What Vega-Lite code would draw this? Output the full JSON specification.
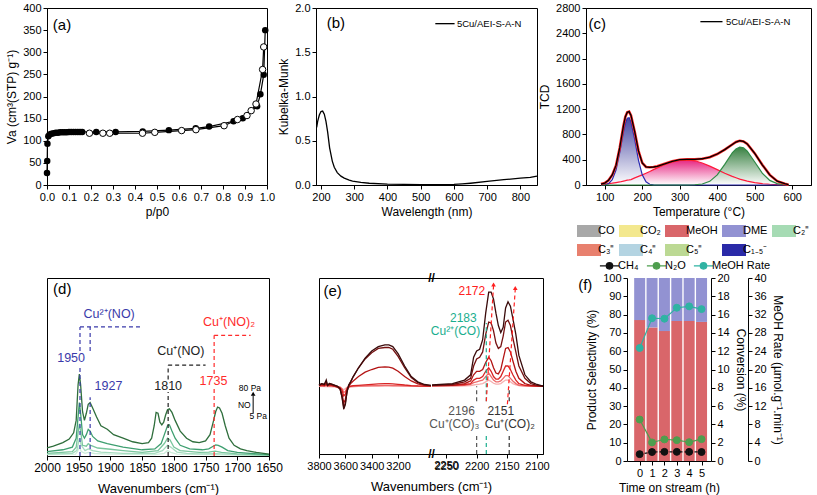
{
"$schema": "https://vega.github.io/schema/vega-lite/v6.json",
"background": "white",
"padding": {"left": 5, "top": 1, "right": 0, "bottom": 0},
"config": {
  "font": "Liberation Sans",
  "view": {"stroke": "#000", "strokeWidth": 1},
  "axis": {"grid": false, "domainColor": "#000", "tickColor": "#000", "tickSize": 4, "labelColor": "#000", "titleColor": "#000", "labelFontSize": 11, "titleFontSize": 12, "titleFontWeight": "normal", "labelFlush": false, "labelOverlap": false, "labelPadding": 2, "tickCount": 40, "labelFont": "Liberation Sans", "titleFont": "Liberation Sans"},
  "legend": {"labelFont": "Liberation Sans"},
  "text": {"font": "Liberation Sans"}
},
"datasets": {
  "a_ads": [{"p":0,"v":27},{"p":0.001,"v":54},{"p":0.002,"v":93},{"p":0.006,"v":110},{"p":0.012,"v":114},{"p":0.02,"v":116},{"p":0.03,"v":117},{"p":0.04,"v":118},{"p":0.05,"v":118},{"p":0.06,"v":119},{"p":0.07,"v":119},{"p":0.08,"v":119},{"p":0.09,"v":119},{"p":0.1,"v":120},{"p":0.11,"v":120},{"p":0.12,"v":120},{"p":0.13,"v":120},{"p":0.14,"v":120},{"p":0.15,"v":120},{"p":0.16,"v":120},{"p":0.224,"v":120},{"p":0.312,"v":120},{"p":0.435,"v":121},{"p":0.554,"v":124},{"p":0.676,"v":128},{"p":0.737,"v":132},{"p":0.848,"v":144},{"p":0.89,"v":151},{"p":0.955,"v":178},{"p":0.97,"v":205},{"p":0.985,"v":249},{"p":0.992,"v":350}],
  "a_des": [{"p":0.193,"v":117},{"p":0.254,"v":117},{"p":0.285,"v":117},{"p":0.434,"v":117},{"p":0.49,"v":119},{"p":0.612,"v":123},{"p":0.677,"v":125},{"p":0.805,"v":134},{"p":0.866,"v":148},{"p":0.909,"v":157},{"p":0.928,"v":168},{"p":0.95,"v":183},{"p":0.98,"v":261},{"p":0.985,"v":312}],
  "b_km": [{"wl":187,"km":0.65},{"wl":190,"km":0.72},{"wl":195,"km":0.79},{"wl":200,"km":0.83},{"wl":205,"km":0.835},{"wl":210,"km":0.8},{"wl":215,"km":0.72},{"wl":220,"km":0.6},{"wl":226,"km":0.42},{"wl":234,"km":0.27},{"wl":240,"km":0.2},{"wl":249,"km":0.14},{"wl":260,"km":0.1},{"wl":270,"km":0.078},{"wl":285,"km":0.055},{"wl":295,"km":0.045},{"wl":320,"km":0.03},{"wl":345,"km":0.02},{"wl":400,"km":0.01},{"wl":450,"km":0.007},{"wl":500,"km":0.005},{"wl":550,"km":0.005},{"wl":600,"km":0.006},{"wl":625,"km":0.012},{"wl":650,"km":0.02},{"wl":700,"km":0.04},{"wl":750,"km":0.06},{"wl":800,"km":0.078},{"wl":830,"km":0.085},{"wl":850,"km":0.1}],
  "c_tpd": [{"t":90,"blue":1,"pink":12,"green":0,"total":15},{"t":100,"blue":4,"pink":16,"green":0,"total":30},{"t":110,"blue":22,"pink":22,"green":0,"total":75},{"t":120,"blue":83,"pink":29,"green":0,"total":160},{"t":130,"blue":237,"pink":38,"green":0,"total":310},{"t":140,"blue":514,"pink":48,"green":0,"total":590},{"t":150,"blue":846,"pink":61,"green":0,"total":940},{"t":155,"blue":979,"pink":68,"green":0,"total":1080},{"t":160,"blue":1057,"pink":76,"green":0,"total":1150},{"t":165,"blue":1064,"pink":80,"green":0,"total":1160},{"t":170,"blue":999,"pink":85,"green":0,"total":1100},{"t":180,"blue":717,"pink":113,"green":0,"total":840},{"t":190,"blue":390,"pink":136,"green":0,"total":540},{"t":200,"blue":161,"pink":160,"green":0,"total":350},{"t":210,"blue":50,"pink":187,"green":0,"total":285},{"t":220,"blue":12,"pink":214,"green":0,"total":280},{"t":230,"blue":2,"pink":243,"green":0,"total":285},{"t":240,"blue":0,"pink":271,"green":0,"total":295},{"t":260,"blue":0,"pink":324,"green":0,"total":335},{"t":280,"blue":0,"pink":367,"green":0,"total":375},{"t":300,"blue":0,"pink":394,"green":0,"total":400},{"t":320,"blue":0,"pink":399,"green":0,"total":405},{"t":340,"blue":0,"pink":383,"green":4,"total":405},{"t":360,"blue":0,"pink":348,"green":16,"total":415},{"t":380,"blue":0,"pink":299,"green":58,"total":440},{"t":400,"blue":0,"pink":243,"green":159,"total":490},{"t":420,"blue":0,"pink":187,"green":326,"total":560},{"t":440,"blue":0,"pink":136,"green":507,"total":640},{"t":450,"blue":0,"pink":114,"green":571,"total":680},{"t":460,"blue":0,"pink":93,"green":599,"total":700},{"t":470,"blue":0,"pink":77,"green":587,"total":690},{"t":480,"blue":0,"pink":61,"green":536,"total":650},{"t":500,"blue":0,"pink":37,"green":364,"total":500},{"t":520,"blue":0,"pink":22,"green":187,"total":320},{"t":540,"blue":0,"pink":12,"green":73,"total":160},{"t":560,"blue":0,"pink":6,"green":22,"total":60},{"t":580,"blue":0,"pink":3,"green":5,"total":20},{"t":590,"blue":0,"pink":2,"green":2,"total":5}],
  "d_ir": [
    {"w":2000,"c5":0.008},{"w":1955,"c5":0.01},{"w":1952,"c5":0.025},{"w":1949,"c5":0.05},{"w":1946,"c5":0.025},{"w":1940,"c5":0.015},{"w":1935,"c5":0.02},{"w":1925,"c5":0.014},{"w":1900,"c5":0.01},{"w":1830,"c5":0.008},{"w":1815,"c5":0.015},{"w":1810,"c5":0.03},{"w":1805,"c5":0.02},{"w":1795,"c5":0.01},{"w":1650,"c5":0.003},
    {"w":2000,"c4":0.01},{"w":1960,"c4":0.015},{"w":1953,"c4":0.03},{"w":1949,"c4":0.1},{"w":1946,"c4":0.06},{"w":1940,"c4":0.03},{"w":1935,"c4":0.04},{"w":1928,"c4":0.03},{"w":1915,"c4":0.022},{"w":1880,"c4":0.015},{"w":1830,"c4":0.015},{"w":1818,"c4":0.03},{"w":1810,"c4":0.06},{"w":1805,"c4":0.05},{"w":1795,"c4":0.022},{"w":1780,"c4":0.015},{"w":1760,"c4":0.012},{"w":1735,"c4":0.013},{"w":1700,"c4":0.008},{"w":1650,"c4":0.004},
    {"w":2000,"c3":0.015},{"w":1960,"c3":0.025},{"w":1954,"c3":0.05},{"w":1951,"c3":0.13},{"w":1949,"c3":0.18},{"w":1947,"c3":0.14},{"w":1944,"c3":0.06},{"w":1938,"c3":0.055},{"w":1935,"c3":0.07},{"w":1931,"c3":0.06},{"w":1920,"c3":0.045},{"w":1900,"c3":0.038},{"w":1880,"c3":0.03},{"w":1850,"c3":0.02},{"w":1825,"c3":0.03},{"w":1815,"c3":0.07},{"w":1810,"c3":0.1},{"w":1806,"c3":0.09},{"w":1800,"c3":0.05},{"w":1790,"c3":0.03},{"w":1760,"c3":0.02},{"w":1745,"c3":0.022},{"w":1735,"c3":0.027},{"w":1725,"c3":0.02},{"w":1700,"c3":0.012},{"w":1650,"c3":0.005},
    {"w":2000,"c2":0.025},{"w":1975,"c2":0.035},{"w":1960,"c2":0.05},{"w":1954,"c2":0.1},{"w":1951,"c2":0.22},{"w":1949,"c2":0.3},{"w":1947,"c2":0.24},{"w":1944,"c2":0.12},{"w":1941,"c2":0.1},{"w":1938,"c2":0.12},{"w":1935,"c2":0.15},{"w":1932,"c2":0.14},{"w":1928,"c2":0.11},{"w":1920,"c2":0.085},{"w":1905,"c2":0.07},{"w":1880,"c2":0.05},{"w":1850,"c2":0.035},{"w":1830,"c2":0.04},{"w":1820,"c2":0.07},{"w":1815,"c2":0.12},{"w":1810,"c2":0.17},{"w":1807,"c2":0.175},{"w":1803,"c2":0.14},{"w":1798,"c2":0.1},{"w":1790,"c2":0.06},{"w":1775,"c2":0.04},{"w":1755,"c2":0.035},{"w":1745,"c2":0.04},{"w":1738,"c2":0.055},{"w":1734,"c2":0.062},{"w":1730,"c2":0.06},{"w":1724,"c2":0.05},{"w":1715,"c2":0.03},{"w":1700,"c2":0.02},{"w":1680,"c2":0.015},{"w":1650,"c2":0.008},
    {"w":2000,"c1":0.045},{"w":1990,"c1":0.055},{"w":1975,"c1":0.075},{"w":1965,"c1":0.095},{"w":1958,"c1":0.13},{"w":1954,"c1":0.2},{"w":1951,"c1":0.4},{"w":1949,"c1":0.46},{"w":1947,"c1":0.4},{"w":1944,"c1":0.25},{"w":1941,"c1":0.2},{"w":1938,"c1":0.24},{"w":1935,"c1":0.29},{"w":1932,"c1":0.3},{"w":1928,"c1":0.27},{"w":1922,"c1":0.22},{"w":1915,"c1":0.17},{"w":1905,"c1":0.15},{"w":1895,"c1":0.12},{"w":1880,"c1":0.1},{"w":1865,"c1":0.08},{"w":1850,"c1":0.07},{"w":1840,"c1":0.075},{"w":1835,"c1":0.1},{"w":1831,"c1":0.17},{"w":1828,"c1":0.245},{"w":1825,"c1":0.24},{"w":1822,"c1":0.19},{"w":1819,"c1":0.175},{"w":1816,"c1":0.19},{"w":1813,"c1":0.23},{"w":1810,"c1":0.26},{"w":1807,"c1":0.265},{"w":1803,"c1":0.245},{"w":1798,"c1":0.2},{"w":1790,"c1":0.14},{"w":1780,"c1":0.1},{"w":1770,"c1":0.08},{"w":1760,"c1":0.075},{"w":1750,"c1":0.085},{"w":1743,"c1":0.12},{"w":1738,"c1":0.19},{"w":1734,"c1":0.25},{"w":1731,"c1":0.275},{"w":1728,"c1":0.27},{"w":1724,"c1":0.24},{"w":1719,"c1":0.17},{"w":1713,"c1":0.1},{"w":1705,"c1":0.06},{"w":1695,"c1":0.04},{"w":1685,"c1":0.03},{"w":1670,"c1":0.02},{"w":1650,"c1":0.01}
  ],
  "d_rules": [
    {"w":1948,"w2":1948,"v":0,"v2":0.5,"site":"Cu²⁺(NO)"},
    {"w":1948,"w2":1948,"v":0.59,"v2":0.725,"site":"Cu²⁺(NO)"},
    {"w":1948,"w2":1852,"v":0.725,"v2":0.725,"site":"Cu²⁺(NO)"},
    {"w":1932,"w2":1932,"v":0,"v2":0.33,"site":"Cu²⁺(NO)"},
    {"w":1932,"w2":1932,"v":0.59,"v2":0.725,"site":"Cu²⁺(NO)"},
    {"w":1809,"w2":1809,"v":0,"v2":0.36,"site":"Cu⁺(NO)"},
    {"w":1809,"w2":1809,"v":0.43,"v2":0.51,"site":"Cu⁺(NO)"},
    {"w":1809,"w2":1750,"v":0.51,"v2":0.51,"site":"Cu⁺(NO)"},
    {"w":1736.5,"w2":1736.5,"v":0,"v2":0.38,"site":"Cu⁺(NO)₂"},
    {"w":1736.5,"w2":1736.5,"v":0.46,"v2":0.678,"site":"Cu⁺(NO)₂"},
    {"w":1736.5,"w2":1679,"v":0.678,"v2":0.678,"site":"Cu⁺(NO)₂"}
  ],
  "d_txt": [
    {"w":1902,"v":0.8,"label":"Cu²⁺(NO)","site":"Cu²⁺(NO)"},
    {"w":1962,"v":0.553,"label":"1950","site":"Cu²⁺(NO)"},
    {"w":1903,"v":0.393,"label":"1927","site":"Cu²⁺(NO)"},
    {"w":1789,"v":0.59,"label":"Cu⁺(NO)","site":"Cu⁺(NO)"},
    {"w":1809,"v":0.393,"label":"1810","site":"Cu⁺(NO)"},
    {"w":1713,"v":0.753,"label":"Cu⁺(NO)₂","site":"Cu⁺(NO)₂"},
    {"w":1737.5,"v":0.42,"label":"1735","site":"Cu⁺(NO)₂"}
  ],
  "d_small": [{"w":1680,"v":0.384,"label":"80 Pa"},{"w":1689,"v":0.285,"label":"NO"},{"w":1667,"v":0.225,"label":"5 Pa"}],
  "e_spec": [
    {"w":3800,"seg":"L","c1":0.39,"c2":0.39,"c3":0.39,"c4":0.388,"c5":0.386,"c6":0.385},
    {"w":3780,"seg":"L","c1":0.4,"c2":0.4,"c3":0.395,"c4":0.39,"c5":0.388},
    {"w":3760,"seg":"L","c1":0.395,"c2":0.395,"c3":0.39,"c4":0.388,"c5":0.386},
    {"w":3745,"seg":"L","c1":0.42,"c2":0.41,"c3":0.4,"c4":0.395,"c5":0.39},
    {"w":3735,"seg":"L","c1":0.39,"c2":0.39,"c3":0.39,"c4":0.387,"c5":0.386},
    {"w":3720,"seg":"L","c1":0.4,"c2":0.4,"c3":0.395,"c4":0.39,"c5":0.388},
    {"w":3700,"seg":"L","c1":0.395,"c2":0.395,"c3":0.39,"c4":0.388,"c5":0.386},
    {"w":3680,"seg":"L","c1":0.39,"c2":0.39,"c3":0.385,"c4":0.385,"c5":0.384},
    {"w":3660,"seg":"L","c1":0.385,"c2":0.385,"c3":0.38,"c4":0.382,"c5":0.382},
    {"w":3640,"seg":"L","c1":0.37,"c2":0.37,"c3":0.37,"c4":0.378,"c5":0.38,"c6":0.38},
    {"w":3625,"seg":"L","c1":0.32,"c2":0.325,"c3":0.34,"c4":0.36,"c5":0.37},
    {"w":3612,"seg":"L","c1":0.255,"c2":0.265,"c3":0.29,"c4":0.33,"c5":0.35,"c6":0.365},
    {"w":3600,"seg":"L","c1":0.28,"c2":0.29,"c3":0.31,"c4":0.34,"c5":0.355},
    {"w":3588,"seg":"L","c1":0.35,"c2":0.35,"c3":0.36,"c4":0.37,"c5":0.375,"c6":0.378},
    {"w":3575,"seg":"L","c1":0.39,"c2":0.39,"c3":0.385,"c4":0.38,"c5":0.382},
    {"w":3560,"seg":"L","c1":0.41,"c2":0.41,"c3":0.4,"c4":0.385,"c5":0.384},
    {"w":3540,"seg":"L","c1":0.44,"c2":0.44,"c3":0.415,"c4":0.388,"c5":0.385},
    {"w":3500,"seg":"L","c1":0.49,"c2":0.49,"c3":0.44,"c4":0.39,"c5":0.386,"c6":0.384},
    {"w":3450,"seg":"L","c1":0.545,"c2":0.54,"c3":0.465,"c4":0.393,"c5":0.387},
    {"w":3400,"seg":"L","c1":0.585,"c2":0.575,"c3":0.48,"c4":0.396,"c5":0.388},
    {"w":3350,"seg":"L","c1":0.61,"c2":0.6,"c3":0.492,"c4":0.398,"c5":0.389},
    {"w":3300,"seg":"L","c1":0.62,"c2":0.605,"c3":0.495,"c4":0.4,"c5":0.39,"c6":0.386},
    {"w":3270,"seg":"L","c1":0.62,"c2":0.605,"c3":0.494,"c4":0.4,"c5":0.39},
    {"w":3240,"seg":"L","c1":0.61,"c2":0.595,"c3":0.488,"c4":0.399,"c5":0.389},
    {"w":3200,"seg":"L","c1":0.57,"c2":0.555,"c3":0.47,"c4":0.396,"c5":0.388},
    {"w":3150,"seg":"L","c1":0.5,"c2":0.49,"c3":0.44,"c4":0.392,"c5":0.387},
    {"w":3100,"seg":"L","c1":0.44,"c2":0.435,"c3":0.415,"c4":0.389,"c5":0.386},
    {"w":3050,"seg":"L","c1":0.41,"c2":0.405,"c3":0.398,"c4":0.387,"c5":0.385},
    {"w":3000,"seg":"L","c1":0.395,"c2":0.393,"c3":0.39,"c4":0.386,"c5":0.385},
    {"w":2950,"seg":"L","c1":0.39,"c2":0.388,"c3":0.387,"c4":0.386,"c5":0.385,"c6":0.384},
    {"w":2274,"seg":"R","c1":0.392,"c2":0.39,"c3":0.388,"c4":0.388,"c5":0.387,"c6":0.386},
    {"w":2240,"seg":"R","c1":0.4,"c2":0.395,"c3":0.39,"c4":0.39,"c5":0.388,"c6":0.386},
    {"w":2220,"seg":"R","c1":0.42,"c2":0.41,"c3":0.4,"c4":0.395,"c5":0.39,"c6":0.387},
    {"w":2210,"seg":"R","c1":0.45,"c2":0.43,"c3":0.415,"c4":0.4,"c5":0.395,"c6":0.388},
    {"w":2205,"seg":"R","c1":0.55,"c2":0.5,"c3":0.45,"c4":0.42,"c5":0.405,"c6":0.392},
    {"w":2200,"seg":"R","c1":0.585,"c2":0.54,"c3":0.47,"c4":0.43,"c5":0.41,"c6":0.395},
    {"w":2195,"seg":"R","c1":0.595,"c2":0.55,"c3":0.47,"c4":0.43,"c5":0.415,"c6":0.397},
    {"w":2190,"seg":"R","c1":0.65,"c2":0.58,"c3":0.48,"c4":0.44,"c5":0.42,"c6":0.4},
    {"w":2185,"seg":"R","c1":0.8,"c2":0.68,"c3":0.52,"c4":0.47,"c5":0.44,"c6":0.41},
    {"w":2180,"seg":"R","c1":0.92,"c2":0.75,"c3":0.55,"c4":0.49,"c5":0.46,"c6":0.42},
    {"w":2176,"seg":"R","c1":0.92,"c2":0.745,"c3":0.53,"c4":0.47,"c5":0.44,"c6":0.412},
    {"w":2172,"seg":"R","c1":0.88,"c2":0.7,"c3":0.49,"c4":0.44,"c5":0.42,"c6":0.402},
    {"w":2168,"seg":"R","c1":0.8,"c2":0.63,"c3":0.46,"c4":0.425,"c5":0.41,"c6":0.397},
    {"w":2164,"seg":"R","c1":0.73,"c2":0.6,"c3":0.455,"c4":0.425,"c5":0.41,"c6":0.397},
    {"w":2160,"seg":"R","c1":0.69,"c2":0.61,"c3":0.48,"c4":0.44,"c5":0.415,"c6":0.4},
    {"w":2156,"seg":"R","c1":0.72,"c2":0.67,"c3":0.54,"c4":0.47,"c5":0.43,"c6":0.41},
    {"w":2152,"seg":"R","c1":0.83,"c2":0.75,"c3":0.6,"c4":0.5,"c5":0.445,"c6":0.42},
    {"w":2148,"seg":"R","c1":0.865,"c2":0.76,"c3":0.605,"c4":0.5,"c5":0.445,"c6":0.42},
    {"w":2144,"seg":"R","c1":0.84,"c2":0.73,"c3":0.58,"c4":0.48,"c5":0.43,"c6":0.41},
    {"w":2140,"seg":"R","c1":0.77,"c2":0.66,"c3":0.53,"c4":0.45,"c5":0.415,"c6":0.4},
    {"w":2135,"seg":"R","c1":0.68,"c2":0.58,"c3":0.47,"c4":0.42,"c5":0.4,"c6":0.393},
    {"w":2130,"seg":"R","c1":0.56,"c2":0.5,"c3":0.43,"c4":0.4,"c5":0.39,"c6":0.389},
    {"w":2120,"seg":"R","c1":0.45,"c2":0.43,"c3":0.4,"c4":0.39,"c5":0.387,"c6":0.386},
    {"w":2110,"seg":"R","c1":0.41,"c2":0.4,"c3":0.39,"c4":0.387,"c5":0.386,"c6":0.385},
    {"w":2100,"seg":"R","c1":0.395,"c2":0.39,"c3":0.387,"c4":0.386,"c5":0.385,"c6":0.385},
    {"w":2090,"seg":"R","c1":0.385,"c2":0.385,"c3":0.385,"c4":0.385,"c5":0.385,"c6":0.385}
  ],
  "e_rules": [
    {"w":2200,"w2":2200,"v":0,"v2":0.113,"site":"Cu⁺(CO)₃"},
    {"w":2200,"w2":2200,"v":0.3,"v2":0.385,"site":"Cu⁺(CO)₃"},
    {"w":2184,"w2":2184,"v":0,"v2":0.113,"site":"Cu²⁺(CO)"},
    {"w":2184,"w2":2184,"v":0.3,"v2":0.745,"site":"Cu²⁺(CO)"},
    {"w":2146,"w2":2146,"v":0,"v2":0.113,"site":"Cu⁺(CO)₂"},
    {"w":2146,"w2":2146,"v":0.3,"v2":0.38,"site":"Cu⁺(CO)₂"},
    {"w":2184,"w2":2172,"v":0.3,"v2":0.955,"site":"growth"},
    {"w":2149,"w2":2136,"v":0.283,"v2":0.935,"site":"growth"}
  ],
  "e_heads": [{"w":2172,"v":0.963,"site":"growth"},{"w":2136,"v":0.943,"site":"growth"}],
  "e_txt": [
    {"w":2208,"v":0.925,"label":"2172","site":"growth"},
    {"w":2222,"v":0.773,"label":"2183","site":"Cu²⁺(CO)"},
    {"w":2235,"v":0.7,"label":"Cu²⁺(CO)","site":"Cu²⁺(CO)"},
    {"w":2225,"v":0.245,"label":"2196","site":"Cu⁺(CO)₃"},
    {"w":2237,"v":0.17,"label":"Cu⁺(CO)₃","site":"Cu⁺(CO)₃"},
    {"w":2160,"v":0.245,"label":"2151","site":"Cu⁺(CO)₂"},
    {"w":2145,"v":0.17,"label":"Cu⁺(CO)₂","site":"Cu⁺(CO)₂"}
  ],
  "e_brk": [{"w":2600,"v":1},{"w":2600,"v":0}],
  "e_tick": [{"w":2250,"v":-0.034,"label":"2250"}],
  "f_bars": [{"t":0,"comp":"MeOH","sel":77},{"t":0,"comp":"DME","sel":23},{"t":1,"comp":"MeOH","sel":73},{"t":1,"comp":"DME","sel":27},{"t":2,"comp":"MeOH","sel":71},{"t":2,"comp":"DME","sel":29},{"t":3,"comp":"MeOH","sel":76.5},{"t":3,"comp":"DME","sel":23.5},{"t":4,"comp":"MeOH","sel":76.5},{"t":4,"comp":"DME","sel":23.5},{"t":5,"comp":"MeOH","sel":76},{"t":5,"comp":"DME","sel":24}],
  "f_conv": [{"t":0,"series":"CH₄","conv":0.75},{"t":1,"series":"CH₄","conv":0.98},{"t":2,"series":"CH₄","conv":1.0},{"t":3,"series":"CH₄","conv":1.0},{"t":4,"series":"CH₄","conv":1.0},{"t":5,"series":"CH₄","conv":0.98},{"t":0,"series":"N₂O","conv":4.53},{"t":1,"series":"N₂O","conv":2.03},{"t":2,"series":"N₂O","conv":2.36},{"t":3,"series":"N₂O","conv":2.28},{"t":4,"series":"N₂O","conv":2.06},{"t":5,"series":"N₂O","conv":2.39}],
  "f_rate": [{"t":0,"series":"MeOH Rate","rate":24.7},{"t":1,"series":"MeOH Rate","rate":31.2},{"t":2,"series":"MeOH Rate","rate":31.1},{"t":3,"series":"MeOH Rate","rate":33.5},{"t":4,"series":"MeOH Rate","rate":33.8},{"t":5,"series":"MeOH Rate","rate":33.2}]
},
"bounds": "flush",
"spacing": 270,
"resolve": {"scale": {"color": "independent", "stroke": "independent", "fill": "independent", "strokeDash": "independent"}, "legend": {"color": "independent", "stroke": "independent", "fill": "independent", "strokeDash": "independent"}},
"vconcat": [
 {
  "bounds": "flush",
  "spacing": 49,
  "resolve": {"scale": {"color": "independent", "stroke": "independent", "fill": "independent", "strokeDash": "independent"}, "legend": {"color": "independent", "stroke": "independent", "fill": "independent", "strokeDash": "independent"}},
  "hconcat": [
   {
    "width": 220, "height": 177,
    "layer": [
     {"data": {"name": "a_ads"}, "mark": {"type": "line", "color": "#000", "strokeWidth": 1.2},
      "encoding": {
       "x": {"field": "p", "type": "quantitative", "scale": {"domain": [0, 1], "nice": false}, "axis": {"values": [0,0.1,0.2,0.3,0.4,0.5,0.6,0.7,0.8,0.9,1], "tickCount": 40, "format": ".1f", "labelOverlap": false, "title": "p/p0"}},
       "y": {"field": "v", "type": "quantitative", "scale": {"domain": [0, 400], "nice": false}, "axis": {"values": [0,50,100,150,200,250,300,350,400], "tickCount": 40, "format": "d", "labelOverlap": false, "title": "Va (cm³(STP) g⁻¹)"}}}},
     {"data": {"name": "a_des"}, "mark": {"type": "line", "color": "#000", "strokeWidth": 1.2},
      "encoding": {"x": {"field": "p", "type": "quantitative"}, "y": {"field": "v", "type": "quantitative"}}},
     {"data": {"name": "a_ads"}, "mark": {"type": "point", "filled": true, "color": "#000", "size": 42, "opacity": 1},
      "encoding": {"x": {"field": "p", "type": "quantitative"}, "y": {"field": "v", "type": "quantitative"}}},
     {"data": {"name": "a_des"}, "mark": {"type": "point", "filled": true, "fill": "#fff", "stroke": "#000", "strokeWidth": 1, "size": 42, "opacity": 1},
      "encoding": {"x": {"field": "p", "type": "quantitative"}, "y": {"field": "v", "type": "quantitative"}}},
     {"data": {"values": [{"x": 0.068, "y": 362, "t": "(a)"}]}, "mark": {"type": "text", "fontSize": 15},
      "encoding": {"x": {"field": "x", "type": "quantitative"}, "y": {"field": "y", "type": "quantitative"}, "text": {"field": "t"}}}
    ]
   },
   {
    "width": 221, "height": 177,
    "layer": [
     {"data": {"name": "b_km"}, "mark": {"type": "line", "color": "#000", "strokeWidth": 1.3},
      "encoding": {
       "x": {"field": "wl", "type": "quantitative", "scale": {"domain": [185, 850], "nice": false, "zero": false}, "axis": {"values": [200,300,400,500,600,700,800], "tickCount": 40, "format": "d", "labelOverlap": false, "title": "Wavelength (nm)"}},
       "y": {"field": "km", "type": "quantitative", "scale": {"domain": [0, 2], "nice": false}, "axis": {"values": [0,0.5,1,1.5,2], "tickCount": 40, "format": ".1f", "labelOverlap": false, "title": "Kubelka-Munk"}}}},
     {"data": {"values": [{"x": 544, "x2": 602, "y": 1.823}]}, "mark": {"type": "rule", "color": "#000", "strokeWidth": 1.3},
      "encoding": {"x": {"field": "x", "type": "quantitative"}, "x2": {"field": "x2"}, "y": {"field": "y", "type": "quantitative"}}},
     {"data": {"values": [{"x": 609, "y": 1.823, "t": "5Cu/AEI-S-A-N"}]}, "mark": {"type": "text", "fontSize": 9.5, "align": "left", "baseline": "middle"},
      "encoding": {"x": {"field": "x", "type": "quantitative"}, "y": {"field": "y", "type": "quantitative"}, "text": {"field": "t"}}},
     {"data": {"values": [{"x": 245, "y": 1.83, "t": "(b)"}]}, "mark": {"type": "text", "fontSize": 15},
      "encoding": {"x": {"field": "x", "type": "quantitative"}, "y": {"field": "y", "type": "quantitative"}, "text": {"field": "t"}}}
    ]
   },
   {
    "width": 225, "height": 177,
    "layer": [
     {"data": {"name": "c_tpd"}, "mark": {"type": "area", "opacity": 0.95, "color": {"gradient": "linear", "x1": 0, "y1": 0, "x2": 0, "y2": 1, "stops": [{"offset": 0, "color": "#e5197a"}, {"offset": 1, "color": "#ffffff"}]}},
      "encoding": {
       "x": {"field": "t", "type": "quantitative", "scale": {"domain": [50, 650], "nice": false, "zero": false}, "axis": {"values": [100,200,300,400,500,600], "tickCount": 40, "format": "d", "labelOverlap": false, "title": "Temperature (°C)"}},
       "y": {"field": "pink", "type": "quantitative", "scale": {"domain": [0, 2800], "nice": false}, "axis": {"values": [0,400,800,1200,1600,2000,2400,2800], "tickCount": 40, "format": "d", "labelOverlap": false, "title": "TCD"}}}},
     {"data": {"name": "c_tpd"}, "mark": {"type": "area", "opacity": 0.95, "color": {"gradient": "linear", "x1": 0, "y1": 0, "x2": 0, "y2": 1, "stops": [{"offset": 0, "color": "#3c3c9c"}, {"offset": 1, "color": "#ffffff"}]}},
      "encoding": {"x": {"field": "t", "type": "quantitative"}, "y": {"field": "blue", "type": "quantitative"}}},
     {"data": {"name": "c_tpd"}, "mark": {"type": "area", "opacity": 0.95, "color": {"gradient": "linear", "x1": 0, "y1": 0, "x2": 0, "y2": 1, "stops": [{"offset": 0, "color": "#2e7a38"}, {"offset": 1, "color": "#ffffff"}]}},
      "encoding": {"x": {"field": "t", "type": "quantitative"}, "y": {"field": "green", "type": "quantitative"}}},
     {"data": {"name": "c_tpd"}, "mark": {"type": "line", "color": "#ff1a3c", "strokeWidth": 1.2},
      "encoding": {"x": {"field": "t", "type": "quantitative"}, "y": {"field": "pink", "type": "quantitative"}}},
     {"data": {"name": "c_tpd"}, "mark": {"type": "line", "color": "#2a2ab0", "strokeWidth": 1.2},
      "encoding": {"x": {"field": "t", "type": "quantitative"}, "y": {"field": "blue", "type": "quantitative"}}},
     {"data": {"name": "c_tpd"}, "mark": {"type": "line", "color": "#2f8a45", "strokeWidth": 1.2},
      "encoding": {"x": {"field": "t", "type": "quantitative"}, "y": {"field": "green", "type": "quantitative"}}},
     {"data": {"name": "c_tpd"}, "mark": {"type": "line", "color": "#ff2020", "strokeWidth": 2.6},
      "encoding": {"x": {"field": "t", "type": "quantitative"}, "y": {"field": "total", "type": "quantitative"}}},
     {"data": {"name": "c_tpd"}, "mark": {"type": "line", "color": "#000", "strokeWidth": 1.3},
      "encoding": {"x": {"field": "t", "type": "quantitative"}, "y": {"field": "total", "type": "quantitative"}}},
     {"data": {"values": [{"x": 355, "x2": 414, "y": 2584}]}, "mark": {"type": "rule", "color": "#000", "strokeWidth": 1.3},
      "encoding": {"x": {"field": "x", "type": "quantitative"}, "x2": {"field": "x2"}, "y": {"field": "y", "type": "quantitative"}}},
     {"data": {"values": [{"x": 423, "y": 2584, "t": "5Cu/AEI-S-A-N"}]}, "mark": {"type": "text", "fontSize": 9.5, "align": "left", "baseline": "middle"},
      "encoding": {"x": {"field": "x", "type": "quantitative"}, "y": {"field": "y", "type": "quantitative"}, "text": {"field": "t"}}},
     {"data": {"values": [{"x": 80, "y": 2550, "t": "(c)"}]}, "mark": {"type": "text", "fontSize": 15},
      "encoding": {"x": {"field": "x", "type": "quantitative"}, "y": {"field": "y", "type": "quantitative"}, "text": {"field": "t"}}}
    ]
   }
  ]
 },
 {
  "bounds": "flush",
  "spacing": 580,
  "resolve": {"scale": {"color": "independent", "stroke": "independent", "fill": "independent", "strokeDash": "independent"}, "legend": {"color": "independent", "stroke": "independent", "fill": "independent", "strokeDash": "independent"}},
  "hconcat": [
   {
    "bounds": "flush",
    "spacing": 50,
    "resolve": {"scale": {"color": "independent", "stroke": "independent", "fill": "independent", "strokeDash": "independent"}, "legend": {"color": "independent", "stroke": "independent", "fill": "independent", "strokeDash": "independent"}},
    "hconcat": [
     {
      "width": 222, "height": 178,
      "layer": [
       {"data": {"name": "d_ir"}, "transform": [{"fold": ["c5","c4","c3","c2","c1"], "as": ["curve","abs"]}],
        "mark": {"type": "line", "strokeWidth": 1.3, "invalid": "filter"},
        "encoding": {
         "x": {"field": "w", "type": "quantitative", "scale": {"domain": [2000, 1650], "nice": false, "zero": false}, "axis": {"values": [2000,1950,1900,1850,1800,1750,1700,1650], "tickCount": 40, "format": "d", "labelOverlap": false, "title": "Wavenumbers (cm⁻¹)", "labelFontSize": 12, "titleFontSize": 13, "titlePadding": 9}},
         "y": {"field": "abs", "type": "quantitative", "scale": {"domain": [0, 1], "nice": false}, "axis": null},
         "stroke": {"field": "curve", "type": "nominal", "scale": {"domain": ["c5","c4","c3","c2","c1"], "range": ["#cdeedb","#a6dcc0","#79c69d","#3e9f70","#2f6e3c"]}, "legend": null}}},
       {"data": {"name": "d_rules"}, "mark": {"type": "rule", "strokeDash": [4, 3], "strokeWidth": 1.2},
        "encoding": {"x": {"field": "w", "type": "quantitative"}, "x2": {"field": "w2"}, "y": {"field": "v", "type": "quantitative"}, "y2": {"field": "v2"},
         "color": {"field": "site", "type": "nominal", "scale": {"domain": ["Cu²⁺(NO)","Cu⁺(NO)","Cu⁺(NO)₂"], "range": ["#3a3aaa","#222222","#ff2b2b"]}, "legend": null}}},
       {"data": {"name": "d_txt"}, "mark": {"type": "text", "fontSize": 12.5},
        "encoding": {"x": {"field": "w", "type": "quantitative"}, "y": {"field": "v", "type": "quantitative"}, "text": {"field": "label"},
         "color": {"field": "site", "type": "nominal", "scale": {"domain": ["Cu²⁺(NO)","Cu⁺(NO)","Cu⁺(NO)₂"], "range": ["#3a3aaa","#222222","#ff2b2b"]}, "legend": null}}},
       {"data": {"name": "d_small"}, "mark": {"type": "text", "fontSize": 8.5, "color": "#000"},
        "encoding": {"x": {"field": "w", "type": "quantitative"}, "y": {"field": "v", "type": "quantitative"}, "text": {"field": "label"}}},
       {"data": {"values": [{"w": 1675, "v": 0.24, "v2": 0.34}]}, "mark": {"type": "rule", "color": "#000", "strokeWidth": 1},
        "encoding": {"x": {"field": "w", "type": "quantitative"}, "y": {"field": "v", "type": "quantitative"}, "y2": {"field": "v2"}}},
       {"data": {"values": [{"w": 1675, "v": 0.35}]}, "mark": {"type": "point", "shape": "triangle-up", "filled": true, "color": "#000", "size": 22, "opacity": 1},
        "encoding": {"x": {"field": "w", "type": "quantitative"}, "y": {"field": "v", "type": "quantitative"}}},
       {"data": {"values": [{"w": 1976, "v": 0.936, "t": "(d)"}]}, "mark": {"type": "text", "fontSize": 15},
        "encoding": {"x": {"field": "w", "type": "quantitative"}, "y": {"field": "v", "type": "quantitative"}, "text": {"field": "t"}}}
      ]
     },
     {
      "width": 224, "height": 176,
      "layer": [
       {"data": {"name": "e_spec"}, "transform": [{"fold": ["c6","c5","c4","c3","c2","c1"], "as": ["curve","abs"]}],
        "mark": {"type": "line", "strokeWidth": 1.3, "invalid": "filter"},
        "encoding": {
         "x": {"field": "w", "type": "quantitative", "scale": {"domain": [3800, 2950, 2274, 2090], "range": [0, 112, 113, 224], "nice": false, "zero": false}, "axis": {"values": [3800,3600,3400,3200,2250,2200,2150,2100], "tickCount": 40, "format": "d", "labelOverlap": false, "title": "Wavenumbers (cm⁻¹)", "labelFontSize": 11, "titleFontSize": 13, "titlePadding": 9}},
         "y": {"field": "abs", "type": "quantitative", "scale": {"domain": [0, 1], "nice": false}, "axis": null},
         "detail": {"field": "seg"},
         "stroke": {"field": "curve", "type": "nominal", "scale": {"domain": ["c6","c5","c4","c3","c2","c1"], "range": ["#f6b0b0","#ee6a6a","#d82424","#b31414","#741010","#3a0b0b"]}, "legend": null}}},
       {"data": {"name": "e_rules"}, "mark": {"type": "rule", "strokeDash": [4, 3], "strokeWidth": 1.2},
        "encoding": {"x": {"field": "w", "type": "quantitative"}, "x2": {"field": "w2"}, "y": {"field": "v", "type": "quantitative"}, "y2": {"field": "v2"},
         "color": {"field": "site", "type": "nominal", "scale": {"domain": ["Cu⁺(CO)₃","Cu²⁺(CO)","Cu⁺(CO)₂","growth"], "range": ["#555555","#1aae8e","#333333","#ff2020"]}, "legend": null}}},
       {"data": {"name": "e_heads"}, "mark": {"type": "point", "shape": "triangle-up", "filled": true, "size": 22, "opacity": 1},
        "encoding": {"x": {"field": "w", "type": "quantitative"}, "y": {"field": "v", "type": "quantitative"},
         "color": {"field": "site", "type": "nominal", "scale": {"domain": ["Cu⁺(CO)₃","Cu²⁺(CO)","Cu⁺(CO)₂","growth"], "range": ["#555555","#1aae8e","#333333","#ff2020"]}, "legend": null}}},
       {"data": {"name": "e_txt"}, "mark": {"type": "text", "fontSize": 12},
        "encoding": {"x": {"field": "w", "type": "quantitative"}, "y": {"field": "v", "type": "quantitative"}, "text": {"field": "label"},
         "color": {"field": "site", "type": "nominal", "scale": {"domain": ["Cu⁺(CO)₃","Cu²⁺(CO)","Cu⁺(CO)₂","growth"], "range": ["#555555","#1aae8e","#333333","#ff2020"]}, "legend": null}}},
       {"data": {"name": "e_tick"}, "mark": {"type": "text", "fontSize": 11, "baseline": "top", "align": "center", "color": "#000"},
        "encoding": {"x": {"field": "w", "type": "quantitative"}, "y": {"field": "v", "type": "quantitative"}, "text": {"field": "label"}}},
       {"data": {"name": "e_brk"}, "mark": {"type": "text", "text": "//", "fontSize": 12, "fontWeight": "bold", "color": "#000"},
        "encoding": {"x": {"field": "w", "type": "quantitative"}, "y": {"field": "v", "type": "quantitative"}}},
       {"data": {"values": [{"w": 3696, "v": 0.925, "t": "(e)"}]}, "mark": {"type": "text", "fontSize": 15},
        "encoding": {"x": {"field": "w", "type": "quantitative"}, "y": {"field": "v", "type": "quantitative"}, "text": {"field": "t"}}}
      ]
     }
    ]
   },
   {
    "width": 84, "height": 183,
    "view": {"stroke": null},
    "resolve": {"scale": {"y": "independent"}},
    "layer": [
     {"layer": [
       {"data": {"name": "f_bars"}, "mark": {"type": "bar", "size": 11},
        "encoding": {
         "x": {"field": "t", "type": "quantitative", "scale": {"domain": [-0.62, 5.36], "nice": false, "zero": false}, "axis": {"values": [0,1,2,3,4,5], "tickCount": 40, "format": "d", "labelOverlap": false, "title": "Time on stream (h)"}},
         "y": {"field": "sel", "type": "quantitative", "stack": "zero", "scale": {"domain": [0, 100], "nice": false}, "axis": {"orient": "left", "values": [0,10,20,30,40,50,60,70,80,90,100], "tickCount": 40, "format": "d", "labelOverlap": false, "title": "Product Selectivity (%)"}},
         "order": {"field": "comp", "sort": "descending"},
         "color": {"field": "comp", "type": "nominal",
          "scale": {"domain": ["CO","CO₂","MeOH","DME","C₂⁼","C₃⁼","C₄⁼","C₅⁼","C₁₋₅⁻"], "range": ["#a8a8a8","#f3e88e","#d9666a","#9292d2","#a6dbb4","#e8806e","#b4d4e2","#bcd994","#2a2aa8"]},
          "legend": {"orient": "none", "legendX": -44, "legendY": -53, "direction": "horizontal", "columns": 5, "title": null, "symbolType": "M-2,-1H2V1H-2Z", "symbolSize": 144, "labelFontSize": 11, "labelOffset": 3, "columnPadding": 4, "rowPadding": 7, "symbolStrokeWidth": 0}}}},
       {"data": {"values": [{"x": -4.4, "y": 96, "t": "(f)"}]}, "mark": {"type": "text", "fontSize": 15},
        "encoding": {"x": {"field": "x", "type": "quantitative"}, "y": {"field": "y", "type": "quantitative"}, "text": {"field": "t"}}}
     ]},
     {"data": {"name": "f_conv"},
      "encoding": {
       "x": {"field": "t", "type": "quantitative"},
       "y": {"field": "conv", "type": "quantitative", "scale": {"domain": [0, 20], "nice": false}, "axis": {"orient": "right", "values": [0,2,4,6,8,10,12,14,16,18,20], "tickCount": 40, "format": "d", "labelOverlap": false, "title": "Conversion (%)"}}},
      "layer": [
       {"mark": {"type": "line", "strokeWidth": 1.2},
        "encoding": {
         "stroke": {"field": "series", "type": "nominal", "scale": {"domain": ["CH₄","N₂O","MeOH Rate"], "range": ["#111111","#4e9e4e","#2fb3a3"]},
          "legend": {"orient": "none", "legendX": -23, "legendY": -18, "direction": "horizontal", "columns": 3, "title": null, "symbolType": "M-2.4,0H-0.8M0.8,0H2.4M-0.8,0A0.8,0.8,0,1,1,0.8,0A0.8,0.8,0,1,1,-0.8,0Z", "symbolSize": 64, "symbolStrokeWidth": 1.3, "labelFontSize": 11, "labelOffset": 3, "columnPadding": 5}},
         "strokeDash": {"field": "series", "type": "nominal", "scale": {"domain": ["CH₄","N₂O"], "range": [[3, 2], [1, 0]]}, "legend": null}}},
       {"mark": {"type": "point", "filled": true, "size": 48, "opacity": 1, "strokeWidth": 1},
        "encoding": {
         "fill": {"field": "series", "type": "nominal", "scale": {"domain": ["CH₄","N₂O","MeOH Rate"], "range": ["#111111","#4e9e4e","#2fb3a3"]},
          "legend": {"orient": "none", "legendX": -23, "legendY": -18, "direction": "horizontal", "columns": 3, "title": null, "symbolType": "M-2.4,0H-0.8M0.8,0H2.4M-0.8,0A0.8,0.8,0,1,1,0.8,0A0.8,0.8,0,1,1,-0.8,0Z", "symbolSize": 64, "symbolStrokeWidth": 1.3, "labelFontSize": 11, "labelOffset": 3, "columnPadding": 5}},
         "stroke": {"field": "series", "type": "nominal", "scale": {"domain": ["CH₄","N₂O","MeOH Rate"], "range": ["#111111","#4e9e4e","#2fb3a3"]},
          "legend": {"orient": "none", "legendX": -23, "legendY": -18, "direction": "horizontal", "columns": 3, "title": null, "symbolType": "M-2.4,0H-0.8M0.8,0H2.4M-0.8,0A0.8,0.8,0,1,1,0.8,0A0.8,0.8,0,1,1,-0.8,0Z", "symbolSize": 64, "symbolStrokeWidth": 1.3, "labelFontSize": 11, "labelOffset": 3, "columnPadding": 5}}}}
      ]},
     {"data": {"name": "f_rate"},
      "encoding": {
       "x": {"field": "t", "type": "quantitative"},
       "y": {"field": "rate", "type": "quantitative", "scale": {"domain": [0, 40], "nice": false}, "axis": {"orient": "right", "offset": 37, "values": [0,4,8,12,16,20,24,28,32,36,40], "tickCount": 40, "format": "d", "labelOverlap": false, "title": "MeOH Rate (µmol.g⁻¹.min⁻¹)"}}},
      "layer": [
       {"mark": {"type": "line", "strokeWidth": 1.2},
        "encoding": {"stroke": {"field": "series", "type": "nominal", "scale": {"domain": ["CH₄","N₂O","MeOH Rate"], "range": ["#111111","#4e9e4e","#2fb3a3"]},
          "legend": {"orient": "none", "legendX": -23, "legendY": -18, "direction": "horizontal", "columns": 3, "title": null, "symbolType": "M-2.4,0H-0.8M0.8,0H2.4M-0.8,0A0.8,0.8,0,1,1,0.8,0A0.8,0.8,0,1,1,-0.8,0Z", "symbolSize": 64, "symbolStrokeWidth": 1.3, "labelFontSize": 11, "labelOffset": 3, "columnPadding": 5}}}},
       {"mark": {"type": "point", "filled": true, "size": 48, "opacity": 1, "strokeWidth": 1},
        "encoding": {
         "fill": {"field": "series", "type": "nominal", "scale": {"domain": ["CH₄","N₂O","MeOH Rate"], "range": ["#111111","#4e9e4e","#2fb3a3"]},
          "legend": {"orient": "none", "legendX": -23, "legendY": -18, "direction": "horizontal", "columns": 3, "title": null, "symbolType": "M-2.4,0H-0.8M0.8,0H2.4M-0.8,0A0.8,0.8,0,1,1,0.8,0A0.8,0.8,0,1,1,-0.8,0Z", "symbolSize": 64, "symbolStrokeWidth": 1.3, "labelFontSize": 11, "labelOffset": 3, "columnPadding": 5}},
         "stroke": {"field": "series", "type": "nominal", "scale": {"domain": ["CH₄","N₂O","MeOH Rate"], "range": ["#111111","#4e9e4e","#2fb3a3"]},
          "legend": {"orient": "none", "legendX": -23, "legendY": -18, "direction": "horizontal", "columns": 3, "title": null, "symbolType": "M-2.4,0H-0.8M0.8,0H2.4M-0.8,0A0.8,0.8,0,1,1,0.8,0A0.8,0.8,0,1,1,-0.8,0Z", "symbolSize": 64, "symbolStrokeWidth": 1.3, "labelFontSize": 11, "labelOffset": 3, "columnPadding": 5}}}}
      ]}
    ]
   }
  ]
 }
]
}
